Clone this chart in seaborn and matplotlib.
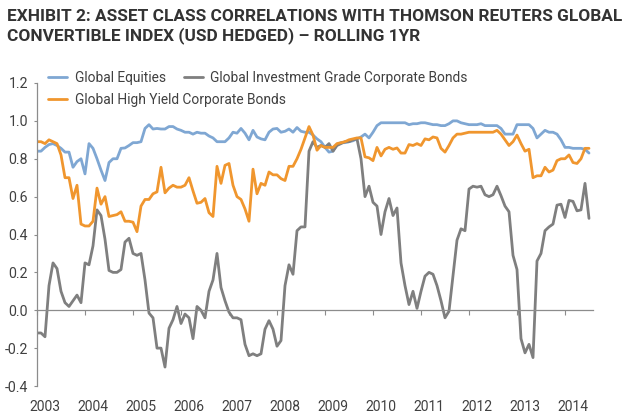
import numpy as np
import pandas as pd
import matplotlib
matplotlib.use("Agg")
import matplotlib.pyplot as plt
import seaborn as sns

# ---- data (monthly rolling 1yr correlations, Jan 2003 onwards) ----
equities = [
    .84, .84, .86, .875, .88, .87, .855, .835, .835, .755, .785, .80,
    .72, .88, .855, .80, .74, .685, .78, .80, .80, .855, .857, .87,
    .885, .885, .89, .96, .98, .957, .96, .957, .957, .97, .97, .957,
    .95, .94, .94, .93, .94, .935, .935, .92, .91, .89, .89, .89,
    .91, .94, .935, .96, .935, .90, .95, .915, .905, .90, .94, .957,
    .96, .94, .945, .957, .94, .965, .945, .94, .94, .925, .905, .89,
    .86, .835, .84, .875, .885, .885, .89, .895, .905, .915, .93, .91,
    .94, .975, .99, .99, .99, .99, .99, .99, .99, .98, .985, .985,
    .99, .99, .985, .98, .98, .975, .975, .985, 1.0, 1.0, .99, .985,
    .98, .98, .98, .985, .975, .975, .975, .975, .96, .93, .93, .93,
    .98, .98, .98, .98, .96, .91, .93, .95, .94, .94, .93, .90,
    .86, .86, .855, .855, .855, .85, .83,
]
inv_grade = [
    -.12, -.12, -.14, .13, .25, .22, .10, .04, .02, .05, .08, .04,
    .25, .24, .34, .53, .50, .375, .21, .20, .20, .215, .36, .38,
    .30, .29, .30, .16, -.015, -.04, -.20, -.20, -.30, -.095, -.05, .02,
    -.07, -.02, -.04, -.15, .02, .00, -.04, .10, .16, .30, .12, .05,
    -.01, -.04, -.04, -.05, -.18, -.24, -.23, -.24, -.23, -.10, -.055, -.10,
    -.19, -.16, .13, .24, .19, .42, .44, .44, .84, .89, .86, .87,
    .86, .88, .84, .87, .88, .89, .89, .90, .905, .80, .60, .655,
    .57, .55, .40, .52, .59, .50, .54, .25, .13, .03, .10, .01,
    .10, .18, .20, .19, .13, .05, -.04, -.005, .18, .37, .43, .42,
    .64, .655, .65, .655, .61, .60, .61, .655, .605, .55, .52, .29,
    .215, -.15, -.225, -.18, -.25, .26, .30, .42, .44, .455, .555, .56,
    .49, .58, .575, .525, .53, .67, .485,
]
high_yield = [
    .89, .89, .88, .90, .89, .88, .82, .70, .70, .59, .66, .455,
    .445, .445, .47, .645, .56, .60, .495, .50, .505, .52, .47, .47,
    .465, .415, .55, .585, .585, .615, .625, .755, .62, .645, .66, .65,
    .65, .66, .70, .63, .565, .57, .59, .515, .495, .76, .67, .765,
    .775, .66, .60, .585, .535, .47, .745, .615, .67, .66, .73, .715,
    .715, .695, .685, .76, .76, .80, .85, .91, .97, .925, .845, .87,
    .86, .86, .86, .88, .885, .89, .90, .905, .91, .91, .81, .805,
    .79, .86, .815, .85, .86, .85, .857, .83, .83, .875, .87, .88,
    .87, .905, .90, .915, .91, .855, .835, .87, .91, .93, .93, .935,
    .94, .94, .94, .94, .94, .94, .94, .95, .93, .90, .87, .89,
    .925, .88, .84, .85, .70, .71, .71, .755, .73, .74, .79, .80,
    .80, .82, .78, .775, .80, .855, .855,
]
years = ["2003", "2004", "2005", "2006", "2007", "2008",
         "2009", "2010", "2011", "2012", "2013", "2014"]
yticks = [-0.4, -0.2, 0.0, 0.2, 0.4, 0.6, 0.8, 1.0, 1.2]

s_eq = "Global Equities"
s_ig = "Global Investment Grade Corporate Bonds"
s_hy = "Global High Yield Corporate Bonds"
title = ("EXHIBIT 2: ASSET CLASS CORRELATIONS WITH THOMSON REUTERS GLOBAL\n"
         "CONVERTIBLE INDEX (USD HEDGED) \u2013 ROLLING 1YR")

months = np.arange(len(equities))
df = pd.concat([
    pd.DataFrame({"month": months, "corr": equities, "series": s_eq}),
    pd.DataFrame({"month": months, "corr": inv_grade, "series": s_ig}),
    pd.DataFrame({"month": months, "corr": high_yield, "series": s_hy}),
])

# ---- style ----
sns.set_theme(style="white")
plt.rcParams["font.family"] = ["Roboto", "DejaVu Sans"]
plt.rcParams["axes.unicode_minus"] = False
txt = "#404040"
axis_col = "#8c8c8c"
palette = {s_eq: "#7fa7d3", s_ig: "#7f7f7f", s_hy: "#f0962e"}

fig = plt.figure(figsize=(6.3, 4.2), dpi=100)
fig.patch.set_facecolor("white")
ax = fig.add_axes([37 / 630, 1 - 386 / 420, 556 / 630, 303 / 420])

sns.lineplot(data=df, x="month", y="corr", hue="series",
             hue_order=[s_eq, s_ig, s_hy], palette=palette,
             linewidth=2.0, ax=ax, legend=True)

ax.set_xlim(0, 139)
ax.set_ylim(-0.4, 1.2)
ax.set_xlabel("")
ax.set_ylabel("")

for sp in ["top", "right"]:
    ax.spines[sp].set_visible(False)
ax.spines["bottom"].set_position(("data", 0))
for sp in ["bottom", "left"]:
    ax.spines[sp].set_color(axis_col)
    ax.spines[sp].set_linewidth(0.9)

ax.set_yticks(yticks)
ax.set_yticklabels([f"{v:.1f}" for v in yticks])
ax.tick_params(axis="y", direction="out", length=2, width=0.8,
               color=axis_col, pad=4.5, labelsize=10.2, labelcolor=txt, left=True)

ax.set_xticks(np.arange(0, 133, 12))
ax.tick_params(axis="x", direction="out", length=3.3, width=0.8,
               color=axis_col, labelbottom=False, bottom=True)

sec = ax.secondary_xaxis("bottom")
sec.set_xticks(np.arange(0, 133, 12) + 2)
sec.set_xticklabels(years)
sec.tick_params(axis="x", length=0, pad=10, labelsize=10, labelcolor=txt)
sec.spines["bottom"].set_visible(False)

# legends: two rows flowing like the original
handles, labels = ax.get_legend_handles_labels()
hmap = dict(zip(labels, handles))
ax.get_legend().remove()
common = dict(frameon=False, fontsize=9.9, handlelength=1.4,
              handletextpad=0.55, borderpad=0, borderaxespad=0,
              labelcolor=txt, bbox_transform=fig.transFigure, loc="center left")
leg1 = ax.legend([hmap[s_eq], hmap[s_ig]], [s_eq, s_ig], ncol=2,
                 columnspacing=1.3, bbox_to_anchor=(48 / 630, 1 - 78 / 420), **common)
ax.add_artist(leg1)
ax.legend([hmap[s_hy]], [s_hy], bbox_to_anchor=(48 / 630, 1 - 100 / 420), **common)

fig.text(7 / 630, 1 - 9 / 420, title, ha="left", va="top",
         fontsize=12.4, fontweight="bold", color="#333333", linespacing=1.22)

fig.savefig("out.png", dpi=100, facecolor="white")
